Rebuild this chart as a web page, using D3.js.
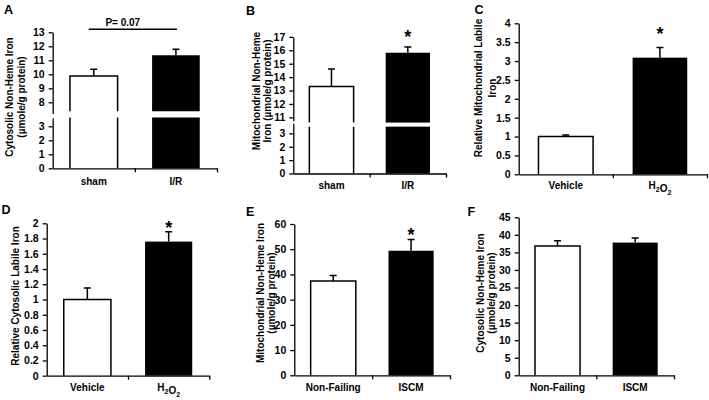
<!DOCTYPE html>
<html>
<head>
<meta charset="utf-8">
<script src="https://cdn.jsdelivr.net/npm/d3@7"></script>
<style>
  body { margin: 0; background: #fff; }
  svg { display: block; font-family: "Liberation Sans", Arial, sans-serif; font-weight: bold; }
</style>
</head>
<body>
<svg id="chart" width="709" height="400"></svg>
<script>
// ---- data ----
const catsA = ["sham", "I/R"];
const valsA = [9.88, 11.36];
const semA = [0.48, 0.43];
const ticksA = [0, 1, 2, 3, 8, 9, 10, 11, 12, 13];
const titleA = ["Cytosolic Non-Heme Iron", "(µmole/g protein)"];

const catsB = ["sham", "I/R"];
const valsB = [13.3, 15.82];
const semB = [1.3, 0.42];
const ticksB = [0, 1, 2, 3, 11, 12, 13, 14, 15, 16, 17];
const titleB = ["Mitochondrial Non-Heme", "Iron (µmole/g protein)"];

const catsC = ["Vehicle", "H2O2"];
const valsC = [1.0, 3.09];
const semC = [0.04, 0.27];
const ticksC = [0, 0.5, 1, 1.5, 2, 2.5, 3, 3.5, 4];
const titleC = ["Relative Mitochondrial Labile", "Iron"];

const catsD = ["Vehicle", "H2O2"];
const valsD = [1.0, 1.76];
const semD = [0.15, 0.13];
const ticksD = [0, 0.2, 0.4, 0.6, 0.8, 1, 1.2, 1.4, 1.6, 1.8, 2];
const titleD = ["Relative Cytosolic Labile Iron"];

const catsE = ["Non-Failing", "ISCM"];
const valsE = [37.4, 49.4];
const semE = [2.2, 4.5];
const ticksE = [0, 10, 20, 30, 40, 50, 60];
const titleE = ["Mitochondrial Non-Heme Iron", "(µmole/g protein)"];

const catsF = ["Non-Failing", "ISCM"];
const valsF = [36.8, 37.8];
const semF = [1.5, 1.3];
const ticksF = [0, 5, 10, 15, 20, 25, 30, 35, 40, 45];
const titleF = ["Cytosolic Non-Heme Iron", "(µmole/g protein)"];

const pLabelA = "P= 0.07";
const starsB = [false, true];
const starsC = [false, true];
const starsD = [false, true];
const starsE = [false, true];
const starsF = [false, false];

const fills = ["#fff", "#000"];

// ---- layout of the six panels ----
const panels = [
  { letter: "A", cats: catsA, vals: valsA, sem: semA, ticks: ticksA, title: titleA, stars: [false, false],
    x0: 52.7, x1: 217, lx: 4, ly: 13.5, tx: [13, 24.5], ty: 97, labDy: 16.5,
    segs: [{ dom: [0, 3.6], px: [168.3, 117.9], bar: [0, 3.63] },
           { dom: [7.2, 13], px: [113.5, 32.3], bar: [7.36, 13] }] },
  { letter: "B", cats: catsB, vals: valsB, sem: semB, ticks: ticksB, title: titleB, stars: starsB,
    x0: 293.3, x1: 446, lx: 246, ly: 15, tx: [259.5, 270.5], ty: 91, labDy: 15.5, starOff: 14,
    segs: [{ dom: [0, 3.75], px: [173.5, 123.3], bar: [0, 3.5] },
           { dom: [10.75, 17], px: [120.7, 36.9], bar: [10.61, 17] }] },
  { letter: "C", cats: catsC, vals: valsC, sem: semC, ticks: ticksC, title: titleC, stars: starsC,
    x0: 518.7, x1: 707, lx: 474.5, ly: 14, tx: [482, 495.5], ty: 88, labDy: 15, starOff: 17,
    segs: [{ dom: [0, 4], px: [174.3, 23.3], bar: [0, 4] }] },
  { letter: "D", cats: catsD, vals: valsD, sem: semD, ticks: ticksD, title: titleD, stars: starsD,
    x0: 46.7, x1: 209.3, lx: 1.5, ly: 214, tx: [18.5], ty: 296, labDy: 15.5, starOff: 7.5,
    segs: [{ dom: [0, 2], px: [375.7, 223.3], bar: [0, 2] }] },
  { letter: "E", cats: catsE, vals: valsE, sem: semE, ticks: ticksE, title: titleE, stars: starsE,
    x0: 294.3, x1: 450, lx: 246, ly: 216, tx: [264, 274.5], ty: 293, labDy: 15.5, starOff: 8.6,
    segs: [{ dom: [0, 60], px: [375.3, 224], bar: [0, 60] }] },
  { letter: "F", cats: catsF, vals: valsF, sem: semF, ticks: ticksF, title: titleF, stars: starsF,
    x0: 518.7, x1: 674, lx: 467.5, ly: 216, tx: [483.5, 494.5], ty: 293, labDy: 15.5, starOff: 8,
    segs: [{ dom: [0, 45], px: [375.3, 217.3], bar: [0, 45] }] }
];

const svg = d3.select("#chart");
const LW = 1.3;

function yOf(p, v) {
  const s = p.segs.find(s => v >= s.dom[0] - 1e-9 && v <= s.dom[1] + 1e-9) || p.segs[p.segs.length - 1];
  return s.scale(v);
}

// text with digits as subscripts (H2O2)
function subText(sel, str) {
  str.split(/(\d)/).filter(d => d !== "").forEach(part => {
    if (/\d/.test(part)) {
      sel.append("tspan").attr("font-size", 7).attr("dy", 3).text(part);
      sel.append("tspan").attr("dy", -3).text("");
    } else {
      sel.append("tspan").text(part);
    }
  });
}

function drawPanel(p) {
  p.segs.forEach(s => { s.scale = d3.scaleLinear().domain(s.dom).range(s.px); });
  const yBase = p.segs[0].px[0];
  const g = svg.append("g");

  const x = d3.scaleBand().domain(p.cats).range([p.x0, p.x1])
    .paddingInner(0.42).paddingOuter(0.21);

  // bars (pieces per axis segment)
  p.cats.forEach((c, i) => {
    const v = p.vals[i];
    const xl = x(c), xr = x(c) + x.bandwidth();
    p.segs.forEach(s => {
      if (v < s.bar[0]) return;
      const hasTop = v <= s.bar[1];
      const yLo = s.scale(s.bar[0]);
      const yHi = s.scale(hasTop ? v : s.bar[1]);
      g.append("rect")
        .attr("x", xl).attr("y", yHi)
        .attr("width", xr - xl).attr("height", yLo - yHi)
        .attr("fill", fills[i]);
      if (fills[i] === "#fff") {
        const d = hasTop
          ? `M${xl},${yLo}V${yHi}H${xr}V${yLo}`
          : `M${xl},${yLo}V${yHi}M${xr},${yLo}V${yHi}`;
        g.append("path").attr("d", d).attr("fill", "none")
          .attr("stroke", "#000").attr("stroke-width", 1.5);
      }
    });

    // error bar (upper only)
    const cx = x(c) + x.bandwidth() / 2;
    const y1 = yOf(p, v), y2 = yOf(p, v + p.sem[i]);
    g.append("path")
      .attr("d", `M${cx},${y1}V${y2}M${cx - 3.5},${y2}H${cx + 3.5}`)
      .attr("fill", "none").attr("stroke", "#000").attr("stroke-width", 1.5);

    if (p.stars[i]) {
      g.append("text")
        .attr("x", cx).attr("y", y2 - p.starOff + 10)
        .attr("text-anchor", "middle").attr("font-size", 18)
        .text("*");
    }
  });

  // y axis, one piece per segment
  p.segs.forEach(s => {
    const ax = g.append("g")
      .attr("transform", `translate(${p.x0},0)`)
      .call(d3.axisLeft(s.scale)
        .tickValues(p.ticks.filter(t => t >= s.dom[0] && t <= s.dom[1]))
        .tickFormat(d => String(d))
        .tickSizeInner(4).tickSizeOuter(0).tickPadding(4));
    ax.attr("font-family", null).attr("font-size", 10.5);
    ax.selectAll("path, line").attr("stroke", "#000").attr("stroke-width", LW);
    ax.selectAll("text").attr("fill", "#000").attr("font-weight", "bold");
  });

  // x axis: ticks between categories
  const xb = d3.scaleLinear().domain([0, p.cats.length]).range([p.x0, p.x1]);
  const xa = g.append("g")
    .attr("transform", `translate(0,${yBase})`)
    .call(d3.axisBottom(xb).tickValues(d3.range(1, p.cats.length + 1))
      .tickFormat("").tickSizeInner(4).tickSizeOuter(0));
  xa.selectAll("path, line").attr("stroke", "#000").attr("stroke-width", LW);

  p.cats.forEach(c => {
    const t = g.append("text")
      .attr("x", x(c) + x.bandwidth() / 2)
      .attr("y", yBase + p.labDy)
      .attr("text-anchor", "middle").attr("font-size", 10);
    subText(t, c);
  });

  // y title
  const tt = g.append("text")
    .attr("transform", `translate(0,${p.ty}) rotate(-90)`)
    .attr("text-anchor", "middle").attr("font-size", 10);
  p.title.forEach((line, k) => {
    tt.append("tspan").attr("x", 0).attr("y", p.tx[k]).text(line);
  });

  // panel letter
  g.append("text").attr("x", p.lx).attr("y", p.ly)
    .attr("font-size", 12.5).text(p.letter);

  return x;
}

const xA = drawPanel(panels[0]);
drawPanel(panels[1]);
drawPanel(panels[2]);
drawPanel(panels[3]);
drawPanel(panels[4]);
drawPanel(panels[5]);

// significance bracket in A
const cA0 = xA(catsA[0]) + xA.bandwidth() / 2;
const cA1 = xA(catsA[1]) + xA.bandwidth() / 2;
svg.append("line")
  .attr("x1", cA0 - 5).attr("x2", cA1 + 1)
  .attr("y1", 29.3).attr("y2", 29.3)
  .attr("stroke", "#000").attr("stroke-width", 1.5);
svg.append("text")
  .attr("x", cA0 + 29).attr("y", 26.3)
  .attr("text-anchor", "middle").attr("font-size", 10)
  .text(pLabelA);
</script>
</body>
</html>
